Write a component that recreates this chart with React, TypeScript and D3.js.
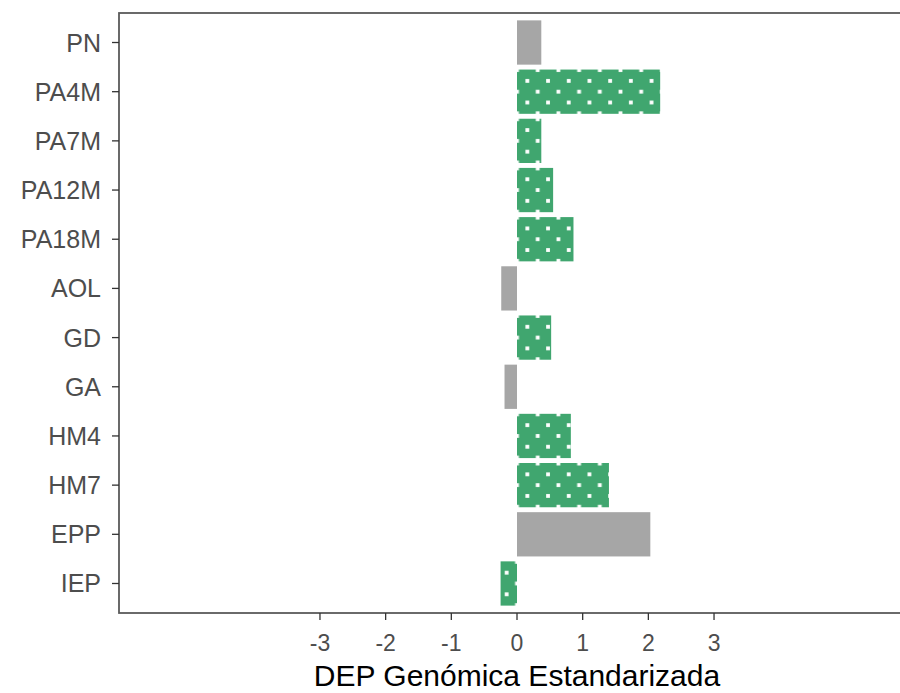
import React, { useEffect } from "react";
import * as d3 from "d3";

const categories = ["PN", "PA4M", "PA7M", "PA12M", "PA18M", "AOL", "GD", "GA", "HM4", "HM7", "EPP", "IEP"];
const values = [0.37, 2.18, 0.37, 0.55, 0.86, -0.24, 0.52, -0.19, 0.82, 1.4, 2.03, -0.25];
const dotted = [false, true, true, true, true, false, true, false, true, true, false, true];
const xTicks = [-3, -2, -1, 0, 1, 2, 3];

const W = 900;
const H = 693;
const left = 119;
const right = 915; // panel runs a little past the image edge
const top = 13;
const bottom = 613;

const App = () => {
  useEffect(() => {
    document.body.style.margin = "0";
  }, []);

  const x = d3.scaleLinear().domain([-6.06, 6.06]).range([left, right]);
  const y = d3
    .scaleBand<string>()
    .domain(categories)
    .range([top, bottom])
    .paddingInner(0.1)
    .paddingOuter(0.15);

  const green = "#40a66f";
  const grey = "#a6a6a6";
  const colStep = 10.35;
  const rowStep = 10.8;
  const dot = 3.8;

  return (
    <svg width={W} height={H} style={{ display: "block", fontFamily: "'Liberation Sans', Arial, sans-serif" }}>
      <defs>
        {categories.map((c, i) => {
          const by = y(c)! + y.bandwidth() / 2;
          return (
            <pattern
              key={c}
              id={`dots-${i}`}
              patternUnits="userSpaceOnUse"
              x={x(0) - colStep}
              y={by - rowStep}
              width={colStep * 2}
              height={rowStep * 2}
            >
              <rect width={colStep * 2} height={rowStep * 2} fill={green} />
              <rect x={colStep - dot / 2} y={rowStep - dot / 2} width={dot} height={dot} fill="#fff" />
              <rect x={-dot / 2} y={-dot / 2} width={dot} height={dot} fill="#fff" />
              <rect x={colStep * 2 - dot / 2} y={-dot / 2} width={dot} height={dot} fill="#fff" />
              <rect x={-dot / 2} y={rowStep * 2 - dot / 2} width={dot} height={dot} fill="#fff" />
              <rect x={colStep * 2 - dot / 2} y={rowStep * 2 - dot / 2} width={dot} height={dot} fill="#fff" />
            </pattern>
          );
        })}
      </defs>

      {categories.map((c, i) => {
        const v = values[i];
        const x0 = x(Math.min(0, v));
        const x1 = x(Math.max(0, v));
        return (
          <rect
            key={c}
            x={x0}
            y={y(c)}
            width={x1 - x0}
            height={y.bandwidth()}
            fill={dotted[i] ? `url(#dots-${i})` : grey}
          />
        );
      })}

      <rect x={left} y={top} width={right - left} height={bottom - top} fill="none" stroke="#5a5a5a" strokeWidth={1.8} />

      {categories.map((c) => {
        const cy = y(c)! + y.bandwidth() / 2;
        return (
          <g key={c}>
            <line x1={left - 7} x2={left} y1={cy} y2={cy} stroke="#333" strokeWidth={1.3} />
            <text x={left - 18} y={cy + 9} textAnchor="end" fontSize={25} fill="#4d4d4d">
              {c}
            </text>
          </g>
        );
      })}

      {xTicks.map((t) => (
        <g key={t}>
          <line x1={x(t)} x2={x(t)} y1={bottom} y2={bottom + 7} stroke="#333" strokeWidth={1.3} />
          <text x={x(t)} y={bottom + 38} textAnchor="middle" fontSize={23} fill="#4d4d4d">
            {t}
          </text>
        </g>
      ))}

      <text x={x(0)} y={686} textAnchor="middle" fontSize={30} fill="#000">
        DEP Genómica Estandarizada
      </text>
    </svg>
  );
};

export default App;
